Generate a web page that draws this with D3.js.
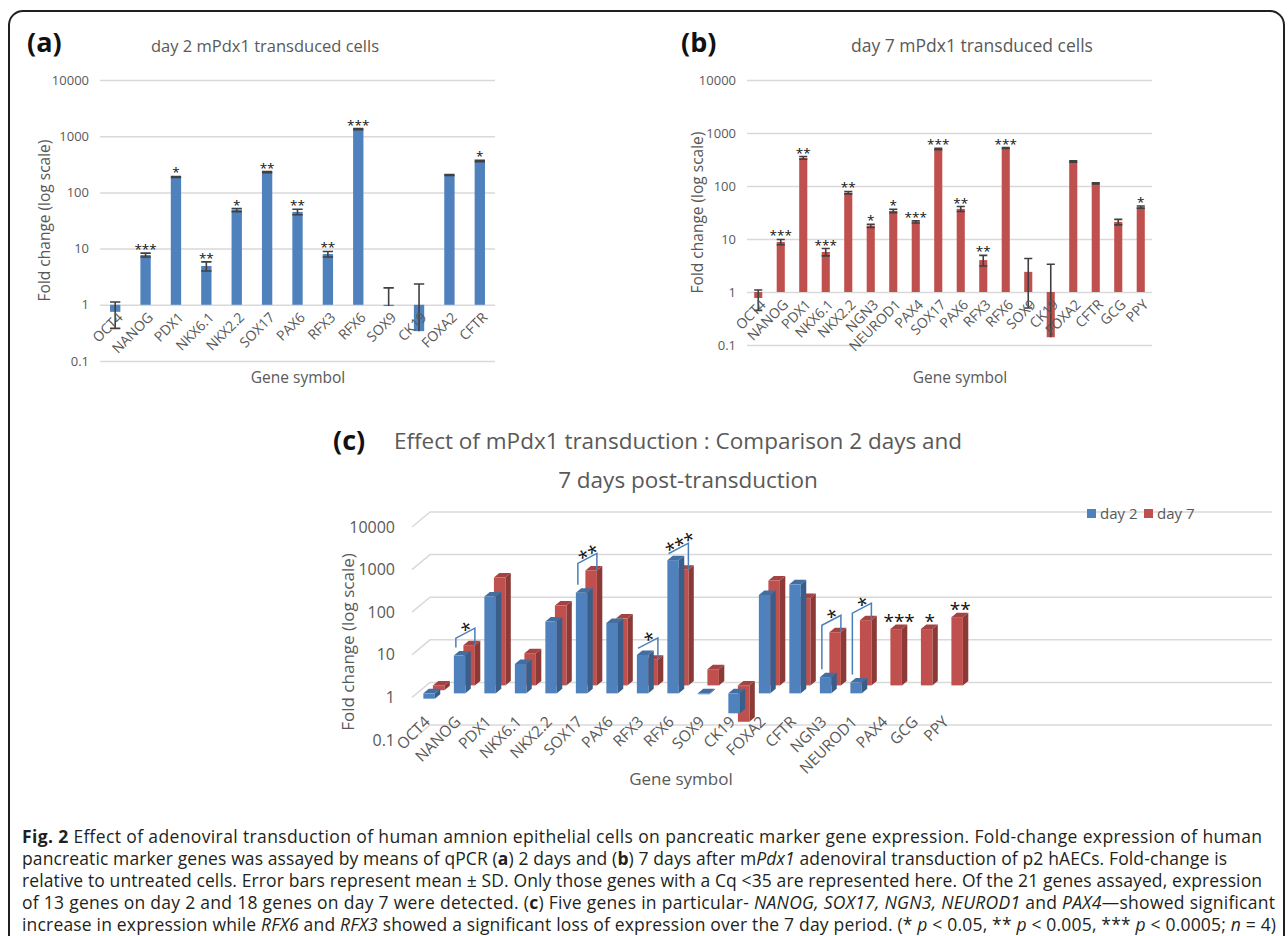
<!DOCTYPE html>
<html>
<head>
<meta charset="utf-8">
<script src="https://cdn.jsdelivr.net/npm/d3@7/dist/d3.min.js"></script>
<style>
  body { margin: 0; background: #fff; }
  text { font-family: "Open Sans", sans-serif; }
</style>
</head>
<body>
<div id="chart"></div>
<script>
let w = 1288;
let h = 936;

// ---- data ----
let yTicks = [0.1, 1, 10, 100, 1000, 10000];

// (a) day 2
let genesA = ["OCT4", "NANOG", "PDX1", "NKX6.1", "NKX2.2", "SOX17", "PAX6", "RFX3", "RFX6", "SOX9", "CK19", "FOXA2", "CFTR"];
let day2Vals = [0.75, 7.7, 188, 4.9, 48.5, 230, 45, 8.0, 1340, 0.95, 0.34, 204, 362];
let day2Sd = [0.37, 0.6, 4, 0.9, 3, 5, 5, 0.9, 30, 1.05, 2.0, 4, 10];
let day2Stars = ["", "***", "*", "**", "*", "**", "**", "**", "***", "", "", "", "*"];

// (b) day 7
let genesB = ["OCT4", "NANOG", "PDX1", "NKX6.1", "NKX2.2", "NGN3", "NEUROD1", "PAX4", "SOX17", "PAX6", "RFX3", "RFX6", "SOX9", "CK19", "FOXA2", "CFTR", "GCG", "PPY"];
let day7Vals = [0.77, 8.8, 340, 5.7, 75, 17.7, 34, 21, 500, 37, 4.0, 520, 2.4, 0.14, 290, 112, 21, 40];
let day7Sd = [0.32, 1.0, 20, 0.9, 4, 1.2, 2.5, 1, 15, 4, 0.9, 10, 1.9, 3.2, 10, 3, 2.5, 2];
let day7Stars = ["", "***", "**", "***", "**", "*", "*", "***", "***", "**", "**", "***", "", "", "", "", "", "*"];

// (c) comparison
let genesC = ["OCT4", "NANOG", "PDX1", "NKX6.1", "NKX2.2", "SOX17", "PAX6", "RFX3", "RFX6", "SOX9", "CK19", "FOXA2", "CFTR", "NGN3", "NEUROD1", "PAX4", "GCG", "PPY"];
let extraDay2Genes = ["NGN3", "NEUROD1"];   // only shown in (c)
let extraDay2Vals = [2.4, 1.8];
let bracketGenes = ["NANOG", "SOX17", "RFX3", "RFX6", "NGN3", "NEUROD1"];
let bracketStars = ["*", "**", "*", "***", "*", "*"];
let day7OnlyGenes = ["PAX4", "GCG", "PPY"];
let day7OnlyStars = ["***", "*", "**"];

let blue = "#4F81BD";
let red = "#C0504D";
let grey = "#595959";
let gridCol = "#d9d9d9";

let svg = d3.select("#chart").append("svg")
  .attr("width", w)
  .attr("height", h);

// frame
svg.append("rect")
  .attr("x", 9).attr("y", 11)
  .attr("width", 1275).attr("height", 1000)
  .attr("rx", 14)
  .attr("fill", "none")
  .attr("stroke", "#231f20")
  .attr("stroke-width", 2);

function styleAxisText(sel, size){
  sel.attr("font-family", "Open Sans, sans-serif");
  sel.selectAll("text").attr("fill", grey).style("font-size", size + "px");
}

// ---- flat panels (a) and (b) ----
function drawPanel(opt){
  let g = svg.append("g");
  let x = d3.scaleBand().domain(opt.genes).range([opt.left, opt.right]);
  let y = d3.scaleLog().domain([0.1, 10000]).range([opt.bottom, opt.top]);

  let yAxis = d3.axisLeft(y)
    .tickValues(yTicks)
    .tickFormat(d => d)
    .tickSizeInner(-(opt.right - opt.left))
    .tickSizeOuter(0)
    .tickPadding(11);

  g.append("g")
    .attr("transform", "translate(" + opt.left + ",0)")
    .call(yAxis)
    .call(a => a.select(".domain").remove())
    .call(a => a.selectAll("line").attr("stroke", gridCol).attr("stroke-width", 1.5))
    .call(a => styleAxisText(a, 13));

  let bw = x.bandwidth() * opt.barFrac;
  let rows = opt.genes.map((gn, i) => ({gene: gn, v: opt.vals[i], sd: opt.sds[i], star: opt.stars[i]}));

  g.selectAll(".bar").data(rows).enter()
    .append("rect")
    .attr("class", "bar")
    .attr("x", d => x(d.gene) + x.bandwidth() / 2 - bw / 2)
    .attr("y", d => Math.min(y(d.v), y(1)))
    .attr("width", bw)
    .attr("height", d => Math.abs(y(d.v) - y(1)))
    .attr("fill", opt.color);

  // error bars
  let cap = bw / 2;
  g.selectAll(".err").data(rows).enter()
    .append("path")
    .attr("class", "err")
    .attr("d", d => {
      let cx = x(d.gene) + x.bandwidth() / 2;
      let up = y(d.v + d.sd);
      let p = "M" + cx + "," + y(d.v) + "V" + up + "M" + (cx - cap) + "," + up + "H" + (cx + cap);
      if (d.v - d.sd > 0) {
        let lo = y(d.v - d.sd);
        p += "M" + cx + "," + y(d.v) + "V" + lo + "M" + (cx - cap) + "," + lo + "H" + (cx + cap);
      }
      return p;
    })
    .attr("stroke", "#404040")
    .attr("stroke-width", 1.6)
    .attr("fill", "none");

  g.selectAll(".star").data(rows).enter()
    .append("text")
    .attr("class", "star")
    .attr("x", d => x(d.gene) + x.bandwidth() / 2)
    .attr("y", d => y(d.v + d.sd) + 1)
    .attr("text-anchor", "middle")
    .style("font-size", "13.5px")
    .attr("fill", "#111")
    .text(d => d.star);

  // category axis at 1
  g.append("g")
    .attr("transform", "translate(0," + y(1) + ")")
    .call(d3.axisBottom(x).tickSize(0))
    .call(a => a.select(".domain").remove())
    .call(a => styleAxisText(a, 14))
    .call(a => a.selectAll("text")
      .attr("text-anchor", "end")
      .attr("x", 0).attr("y", 0).attr("dy", "0.35em")
      .attr("transform", "translate(5,10) rotate(-45)"));

  g.append("text")
    .attr("transform", "translate(" + opt.yTitleX + "," + ((opt.top + opt.bottom) / 2) + ") rotate(-90)")
    .attr("text-anchor", "middle")
    .attr("fill", grey)
    .style("font-size", "15.5px")
    .text("Fold change (log scale)");

  g.append("text")
    .attr("x", opt.xTitleX).attr("y", 383)
    .attr("text-anchor", "middle")
    .attr("fill", grey)
    .style("font-size", "15.5px")
    .text("Gene symbol");

  g.append("text")
    .attr("x", opt.titleX).attr("y", 52)
    .attr("text-anchor", "middle")
    .attr("fill", grey)
    .style("font-size", opt.titleSize + "px")
    .text(opt.title);

  g.append("text")
    .attr("x", opt.labelX).attr("y", 52)
    .attr("fill", "#111")
    .style("font-size", "27px")
    .style("font-weight", 700)
    .text(opt.label);
}

drawPanel({
  genes: genesA, vals: day2Vals, sds: day2Sd, stars: day2Stars,
  left: 100, right: 495, top: 80, bottom: 361, barFrac: 0.34,
  color: blue, title: "day 2 mPdx1 transduced cells", titleX: 265, titleSize: 16.5, label: "(a)", labelX: 27,
  yTitleX: 50, xTitleX: 298
});

drawPanel({
  genes: genesB, vals: day7Vals, sds: day7Sd, stars: day7Stars,
  left: 747, right: 1152, top: 80, bottom: 345, barFrac: 0.36,
  color: red, title: "day 7 mPdx1 transduced cells", titleX: 972, titleSize: 17.5, label: "(b)", labelX: 681,
  yTitleX: 703, xTitleX: 960
});

// ---- 3D-looking panel (c) ----
let gc = svg.append("g");
let xc = d3.scaleBand().domain(genesC).range([409, 958]);
let yc = d3.scaleLog().domain([0.1, 10000]).range([740, 527]);
let depthX = 18, depthY = -15;   // projection of full floor depth
let rowBlue = 0.27, rowRed = 0.8, barDepth = 0.3;
let bwc = 11.5;

// gridlines: short diagonal then back wall line
gc.selectAll(".grid").data(yTicks).enter()
  .append("path")
  .attr("d", t => "M" + 412 + "," + yc(t) + "L" + (412 + depthX) + "," + (yc(t) + depthY) + "H" + 1272)
  .attr("stroke", gridCol)
  .attr("stroke-width", 1.5)
  .attr("fill", "none");

gc.append("g")
  .attr("transform", "translate(412,0)")
  .call(d3.axisLeft(yc).tickValues(yTicks).tickFormat(d => d).tickSize(0).tickPadding(17))
  .call(a => a.select(".domain").remove())
  .call(a => styleAxisText(a, 16));

let day2Map = new Map(genesA.map((gn, i) => [gn, day2Vals[i]]));
extraDay2Genes.forEach((gn, i) => day2Map.set(gn, extraDay2Vals[i]));
let day7Map = new Map(genesB.map((gn, i) => [gn, day7Vals[i]]));

function shade(c, k){ return d3.color(c).darker(k).formatHex(); }

function barGeom(gene, v, row){
  let ox = depthX * row, oy = depthY * row;
  let x0 = xc(gene) + xc.bandwidth() / 2 - bwc / 2 + ox;
  let yv = yc(v) + oy, y1 = yc(1) + oy;
  return {x0: x0, top: Math.min(yv, y1), bot: Math.max(yv, y1), frontTop: yv};
}

function drawPrism(gene, v, row, color){
  let b = barGeom(gene, v, row);
  let dx = depthX * barDepth, dy = depthY * barDepth;
  let g = gc.append("g");
  g.append("polygon")
    .attr("points", [[b.x0 + bwc, b.top], [b.x0 + bwc + dx, b.top + dy], [b.x0 + bwc + dx, b.bot + dy], [b.x0 + bwc, b.bot]].join(" "))
    .attr("fill", shade(color, 0.9));
  g.append("polygon")
    .attr("points", [[b.x0, b.top], [b.x0 + dx, b.top + dy], [b.x0 + bwc + dx, b.top + dy], [b.x0 + bwc, b.top]].join(" "))
    .attr("fill", shade(color, 0.45));
  g.append("rect")
    .attr("x", b.x0).attr("y", b.top)
    .attr("width", bwc).attr("height", Math.max(b.bot - b.top, 0.8))
    .attr("fill", color);
}

// back row first (day 7), then front row (day 2)
genesC.forEach(gn => { if (day7Map.has(gn)) drawPrism(gn, day7Map.get(gn), rowRed, red); });
genesC.forEach(gn => { if (day2Map.has(gn)) drawPrism(gn, day2Map.get(gn), rowBlue, blue); });

// significance brackets
let bracketCol = "#4A7EBB";
bracketGenes.forEach((gn, i) => {
  let bb = barGeom(gn, day2Map.get(gn), rowBlue);
  let rb = barGeom(gn, day7Map.get(gn), rowRed);
  let lx = bb.x0 + 2, rx = rb.x0 + bwc;
  let rTop = Math.min(bb.frontTop, rb.frontTop) - 17;
  let lTop = rTop + 10;
  let lBot = bb.frontTop - 8;
  let rBot = rb.frontTop;
  gc.append("path")
    .attr("d", "M" + lx + "," + lBot + "V" + lTop + "L" + rx + "," + rTop + "V" + rBot)
    .attr("stroke", bracketCol)
    .attr("stroke-width", 1.5)
    .attr("fill", "none");
  let ang = Math.atan2(rTop - lTop, rx - lx) * 180 / Math.PI;
  let mx = (lx + rx) / 2, my = (lTop + rTop) / 2 - 7;
  gc.append("text")
    .attr("transform", "translate(" + mx + "," + my + ") rotate(" + ang + ")")
    .attr("text-anchor", "middle")
    .attr("dy", "0.56em")
    .attr("fill", "#111")
    .style("font-size", "19px")
    .text(bracketStars[i]);
});

day7OnlyGenes.forEach((gn, i) => {
  let rb = barGeom(gn, day7Map.get(gn), rowRed);
  gc.append("text")
    .attr("x", rb.x0 + bwc / 2 + 3)
    .attr("y", rb.frontTop - 12)
    .attr("dy", "0.56em")
    .attr("text-anchor", "middle")
    .attr("fill", "#111")
    .style("font-size", "19px")
    .text(day7OnlyStars[i]);
});

// category labels
gc.append("g")
  .attr("transform", "translate(0," + 712 + ")")
  .call(d3.axisBottom(xc).tickSize(0))
  .call(a => a.select(".domain").remove())
  .call(a => styleAxisText(a, 15.5))
  .call(a => a.selectAll("text")
    .attr("text-anchor", "end")
    .attr("x", 0).attr("y", 0).attr("dy", "0.35em")
    .attr("transform", "translate(3,7) rotate(-45)"));

gc.append("text")
  .attr("transform", "translate(354,642) rotate(-90)")
  .attr("text-anchor", "middle")
  .attr("fill", grey)
  .style("font-size", "17px")
  .text("Fold change (log scale)");

gc.append("text")
  .attr("x", 681).attr("y", 785)
  .attr("text-anchor", "middle")
  .attr("fill", grey)
  .style("font-size", "17px")
  .text("Gene symbol");

gc.append("text").attr("x", 678).attr("y", 449)
  .attr("text-anchor", "middle").attr("fill", grey).style("font-size", "22.5px")
  .text("Effect of mPdx1 transduction : Comparison 2 days and");
gc.append("text").attr("x", 688).attr("y", 488)
  .attr("text-anchor", "middle").attr("fill", grey).style("font-size", "22.5px")
  .text("7 days post-transduction");

gc.append("text").attr("x", 333).attr("y", 450)
  .attr("fill", "#111").style("font-size", "27px").style("font-weight", 700)
  .text("(c)");

// legend
let legend = gc.selectAll(".leg").data([["day 2", blue], ["day 7", red]]).enter()
  .append("g")
  .attr("transform", (d, i) => "translate(" + (1087 + i * 57) + ",509)");
legend.append("rect").attr("width", 9).attr("height", 9).attr("fill", d => d[1]);
legend.append("text").attr("x", 13).attr("y", 10).attr("fill", grey)
  .style("font-size", "15px").text(d => d[0]);

// ---- caption ----
let capLines = [
  [["b", "Fig. 2"], ["", " Effect of adenoviral transduction of human amnion epithelial cells on pancreatic marker gene expression. Fold-change expression of human"]],
  [["", "pancreatic marker genes was assayed by means of qPCR ("], ["b", "a"], ["", ") 2 days and ("], ["b", "b"], ["", ") 7 days after m"], ["i", "Pdx1"], ["", " adenoviral transduction of p2 hAECs. Fold-change is"]],
  [["", "relative to untreated cells. Error bars represent mean \u00b1 SD. Only those genes with a Cq <35 are represented here. Of the 21 genes assayed, expression"]],
  [["", "of 13 genes on day 2 and 18 genes on day 7 were detected. ("], ["b", "c"], ["", ") Five genes in particular- "], ["i", "NANOG, SOX17, NGN3, NEUROD1"], ["", " and "], ["i", "PAX4"], ["", "\u2014showed significant"]],
  [["", "increase in expression while "], ["i", "RFX6"], ["", " and "], ["i", "RFX3"], ["", " showed a significant loss of expression over the 7 day period. (* "], ["i", "p"], ["", " < 0.05, ** "], ["i", "p"], ["", " < 0.005, *** "], ["i", "p"], ["", " < 0.0005; "], ["i", "n"], ["", " = 4)"]]
];
let capWidths = [1240, 1205, 1240, 1253, 1254];

let cap = svg.append("g");
capLines.forEach((line, i) => {
  let t = cap.append("text")
    .attr("x", 22)
    .attr("y", 843 + i * 22)
    .attr("fill", "#231f20")
    .attr("textLength", capWidths[i])
    .attr("lengthAdjust", "spacing")
    .style("font-size", "17.5px");
  line.forEach(seg => {
    let s = t.append("tspan").text(seg[1]);
    if (seg[0] == "b") s.style("font-weight", 700);
    if (seg[0] == "i") s.style("font-style", "italic");
  });
});
</script>
</body>
</html>
